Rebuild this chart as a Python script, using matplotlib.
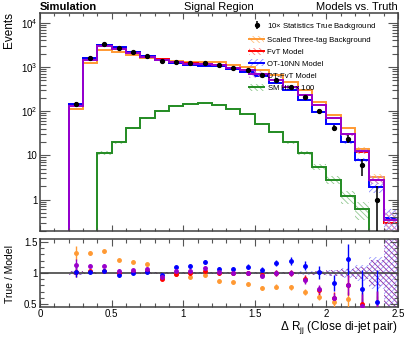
import numpy as np
import matplotlib
matplotlib.use('Agg')
import matplotlib.pyplot as plt
from matplotlib.patches import Patch
from matplotlib.lines import Line2D
from matplotlib.ticker import MultipleLocator, LogLocator, FuncFormatter, NullFormatter

plt.rcParams['font.family'] = ['Liberation Sans', 'DejaVu Sans']
plt.rcParams['mathtext.fontset'] = 'custom'
plt.rcParams['mathtext.rm'] = 'Liberation Sans'
plt.rcParams['mathtext.it'] = 'Liberation Sans:italic'
plt.rcParams['hatch.linewidth'] = 0.6

# bins of Delta R_jj, width 0.1 from 0 to 2.5
edges = np.round(np.linspace(0, 2.5, 26), 2)

truth = [0, 0, 146, 1600, 3300, 2700, 2150, 1790, 1355, 1307, 1205, 1242, 1100,
         960, 835, 647, 509, 355, 204, 99, 42, 24, 5.9, 1.0, 0]
three_tag = [0, 0, 110, 1203, 2444, 2231, 1822, 1570, 1473, 1334, 1282, 1280, 1264,
             1129, 1018, 857, 653, 461, 296, 160, 80, 42, 13.8, 3.2, 0.3]
fvt = [0, 0, 143, 1553, 3173, 2700, 2129, 1738, 1489, 1320, 1205, 1194, 1100,
       960, 835, 667, 509, 355, 227, 137, 70, 30, 12, 2.8, 0.3]
ot10nn = [0, 0, 143, 1569, 3204, 2812, 2150, 1755, 1411, 1199, 1086, 1053, 1028,
          897, 759, 616, 439, 298, 182, 98, 50, 19.6, 7.9, 1.9, 0.39]
otfvt = [0, 0, 129, 1429, 2946, 2596, 2048, 1673, 1441, 1269, 1159, 1150, 1078,
         960, 835, 681, 509, 355, 229, 135, 71, 30, 12.5, 2.8, 0.35]
hh_x100 = [0, 0, 0, 0, 11.4, 20.1, 41.5, 71, 102, 131, 148, 150, 141,
           113, 84, 52, 34, 19.6, 11.1, 5.6, 2.8, 1.19, 0.62, 0, 0]

labels = ['Scaled Three-tag Background', 'FvT Model', 'OT-10NN Model', 'OT-FvT Model', 'SM HH $\\times$ 100']
colors = ['#ff9933', '#ff0000', '#0000ff', '#9900cc', '#228b22']
hcolors = ['#ffc080', '#ff8080', '#8c8cff', '#c890e0', '#90c890']
hatches = ['\\\\\\\\\\\\', '\\\\\\\\\\\\', '//////', '\\\\\\\\\\\\', '\\\\\\\\\\\\']
models = [three_tag, fvt, ot10nn, otfvt, hh_x100]
wgt = 0.12  # per-event weight used for model stat. uncertainty

centers = 0.5 * (edges[1:] + edges[:-1])
truth = np.array(truth, dtype=float)

fig = plt.figure(figsize=(4.11, 3.38), dpi=100)
ax = fig.add_axes([40/411, 1-230.5/338, 358/411, 218/338])
rax = fig.add_axes([40/411, 1-307/338, 358/411, 68/338], sharex=ax)

# top panel
for vals, c, hc, ht in zip(models, colors, hcolors, hatches):
    v = np.array(vals, dtype=float)
    err = np.sqrt(v * wgt)
    ax.stairs(v + err, edges, baseline=np.clip(v - err, 1e-4, None), fill=True,
              facecolor='none', edgecolor=hc, hatch=ht, linewidth=0)
    ax.stairs(v, edges, baseline=0, color=c, linewidth=1.4)

ok = truth > 0
dat = ax.errorbar(centers[ok], truth[ok], yerr=np.sqrt(truth[ok]), fmt='o', color='k',
                  ms=2.8, elinewidth=1.1, capsize=0, zorder=10)

ax.set_yscale('log')
ax.set_xlim(0, 2.5)
ax.set_ylim(0.2, 1.7e4)

def logfmt(v, pos):
    if abs(v - 1) < 1e-9:
        return '1'
    if abs(v - 10) < 1e-9:
        return '10'
    return '$10^{%d}$' % int(round(np.log10(v)))

ax.yaxis.set_major_locator(LogLocator(base=10))
ax.yaxis.set_minor_locator(LogLocator(base=10, subs=np.arange(2, 10)))
ax.yaxis.set_major_formatter(FuncFormatter(logfmt))
ax.yaxis.set_minor_formatter(NullFormatter())

# ratio panel
band_cols = {2: '#9999ff', 3: '#8e2a9e'}
for i in (2, 3):
    v = np.array(models[i], dtype=float)
    rel = np.sqrt(v * wgt) / np.where(v > 0, v, 1)
    rel = np.where(v > 0, rel, 0)
    rax.stairs(1 + rel, edges, baseline=1 - rel, fill=True, facecolor='none',
               edgecolor=band_cols[i], hatch=hatches[i], linewidth=0)

rax.axhline(1, color='#444444', lw=1.2, zorder=3)
for vals, c in zip(models[:4], colors[:4]):
    v = np.array(vals, dtype=float)
    m = ok & (v > 0)
    rax.errorbar(centers[m], truth[m] / v[m], yerr=np.sqrt(truth[m]) / v[m], fmt='o',
                 color=c, ms=2.5, elinewidth=1.0, capsize=0, zorder=5)

rax.set_ylim(0.45, 1.55)
rax.yaxis.set_major_locator(MultipleLocator(0.5))
rax.yaxis.set_minor_locator(MultipleLocator(0.1))
rax.yaxis.set_major_formatter(FuncFormatter(lambda v, p: '%g' % v))
rax.xaxis.set_major_locator(MultipleLocator(0.5))
rax.xaxis.set_minor_locator(MultipleLocator(0.1))
rax.xaxis.set_major_formatter(FuncFormatter(lambda v, p: '%g' % v))

for a in (ax, rax):
    a.tick_params(which='both', direction='in', top=True, right=True, colors='#555555',
                  labelcolor='k', labelsize=7, width=0.8, pad=2)
    for s in a.spines.values():
        s.set_color('#404040')
        s.set_linewidth(1.1)
ax.tick_params(axis='y', which='major', length=7)
ax.tick_params(axis='y', which='minor', length=4)
ax.tick_params(axis='x', which='major', length=4.5)
ax.tick_params(axis='x', which='minor', length=2.5)
ax.tick_params(labelbottom=False)
rax.tick_params(axis='y', which='major', length=6)
rax.tick_params(axis='y', which='minor', length=2.7)
rax.tick_params(axis='x', which='major', length=5, pad=1.5)
rax.tick_params(axis='x', which='minor', length=3)

# legend
handles = [dat]
for c, hc, ht in zip(colors, hcolors, hatches):
    handles.append((Patch(facecolor='none', edgecolor=hc, hatch=ht, linewidth=0),
                    Line2D([], [], color=c, lw=1.4)))
ax.legend(handles, ['10$\\times$ Statistics True Background'] + labels,
          loc='upper left', bbox_to_anchor=(249/411, 1-21/338), bbox_transform=fig.transFigure,
          frameon=False, fontsize=5.6, borderpad=0, borderaxespad=0,
          handlelength=1.95, handleheight=1.0, handletextpad=0.35, labelspacing=0.48)

# texts
fig.text(40/411, 1-9.5/338, 'Simulation', fontsize=8, fontweight='bold', ha='left', va='baseline')
fig.text(219/411, 1-9.5/338, 'Signal Region', fontsize=8, ha='center', va='baseline')
fig.text(398/411, 1-9.5/338, 'Models vs. Truth', fontsize=8, ha='right', va='baseline')
fig.text(9/411, 1-12.5/338, 'Events', fontsize=8.5, rotation=90, ha='center', va='top')
fig.text(10/411, 1-274/338, 'True / Model', fontsize=7.5, rotation=90, ha='center', va='center')
fig.text(398/411, 1-327/338, '$\\Delta$ R$_{\\mathrm{jj}}$ (Close di-jet pair)', fontsize=8.5,
         ha='right', va='center')

fig.savefig('out.png', dpi=100)
